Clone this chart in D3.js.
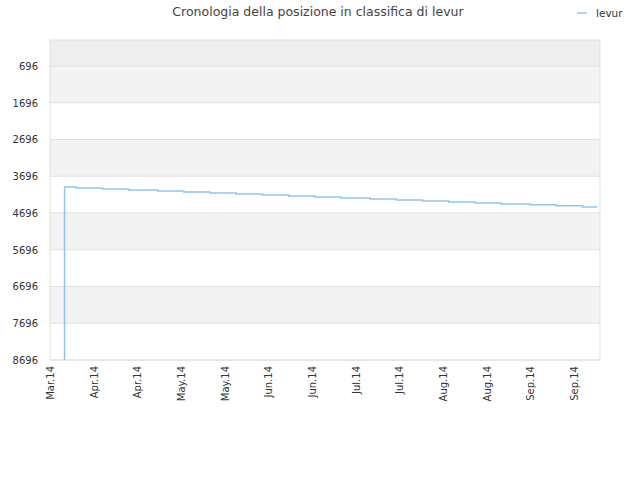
<!DOCTYPE html>
<html><head><meta charset="utf-8">
<script src="https://cdn.jsdelivr.net/npm/d3@7"></script>
<style>body{margin:0;background:#fff;font-family:"DejaVu Sans",sans-serif;}</style>
</head><body><svg id="c" width="640" height="480"></svg>
<script>
const stepDates = ["2014-04-01","2014-04-05","2014-04-14","2014-04-23","2014-05-03","2014-05-12","2014-05-21","2014-05-30","2014-06-08","2014-06-17","2014-06-26","2014-07-05","2014-07-15","2014-07-24","2014-08-02","2014-08-11","2014-08-20","2014-08-29","2014-09-08","2014-09-17","2014-09-26","2014-10-01"];
const stepValues = [3989,4016,4043,4070,4097,4124,4151,4178,4205,4232,4259,4286,4313,4340,4367,4394,4421,4448,4475,4502,4530,4530];
const yTicks = [696,1696,2696,3696,4696,5696,6696,7696,8696];
const xTickDates = ["2014-03-27","2014-04-11","2014-04-26","2014-05-11","2014-05-26","2014-06-10","2014-06-25","2014-07-10","2014-07-25","2014-08-09","2014-08-24","2014-09-08","2014-09-23"];
const monthNames = ["Jan","Feb","Mar","Apr","May","Jun","Jul","Aug","Sep","Oct","Nov","Dec"];

const svg = d3.select("#c");
const L = 50, R = 600, T = 40, B = 360;
const x = d3.scaleTime().domain([new Date("2014-03-27"), new Date("2014-10-02")]).range([L, R]);
const y = d3.scaleLinear().domain([-11, 8696]).range([T, B]);

// bands
const edges = [-11, ...yTicks];
for (let i = 0; i < edges.length - 1; i++) {
  const fill = i === 0 ? "#eeeeee" : (i % 2 === 1 ? "#f3f3f3" : "#ffffff");
  svg.append("rect").attr("x", L).attr("width", R - L)
    .attr("y", y(edges[i])).attr("height", y(edges[i + 1]) - y(edges[i])).attr("fill", fill);
}
svg.selectAll(".gl").data(yTicks).enter().append("line")
  .attr("x1", L).attr("x2", R).attr("y1", d => y(d)).attr("y2", d => y(d))
  .attr("stroke", "#e0e0e0");
svg.append("rect").attr("x", L).attr("y", T).attr("width", R - L).attr("height", B - T)
  .attr("fill", "none").attr("stroke", "#e0e0e0");

svg.selectAll(".yt").data(yTicks).enter().append("text")
  .attr("x", L - 12).attr("y", d => y(d) + 4).attr("text-anchor", "end")
  .attr("font-size", 10).attr("fill", "#333").text(d => d);

xTickDates.forEach(s => {
  const d = new Date(s);
  svg.append("text")
    .attr("transform", `translate(${x(d) + 4},${B + 6}) rotate(-90)`)
    .attr("text-anchor", "end").attr("font-size", 10).attr("fill", "#333")
    .text(monthNames[d.getMonth()] + ".14");
});

// line
const pts = [{d: new Date(stepDates[0]), v: 8696}].concat(stepDates.map((s, i) => ({d: new Date(s), v: stepValues[i]})));
const line = d3.line().x(p => x(p.d)).y(p => y(p.v)).curve(d3.curveStepAfter);
svg.append("path").datum(pts).attr("d", line).attr("fill", "none")
  .attr("stroke", "#90c4f5").attr("stroke-width", 1.5);

svg.append("text").attr("x", 318).attr("y", 16).attr("text-anchor", "middle")
  .attr("font-size", 12.5).attr("fill", "#444").text("Cronologia della posizione in classifica di levur");
svg.append("line").attr("x1", 577).attr("x2", 587).attr("y1", 13).attr("y2", 13)
  .attr("stroke", "#90c4f5").attr("stroke-width", 1.5);
svg.append("text").attr("x", 596).attr("y", 17).attr("font-size", 10.5).attr("fill", "#333").text("levur");
</script></body></html>
